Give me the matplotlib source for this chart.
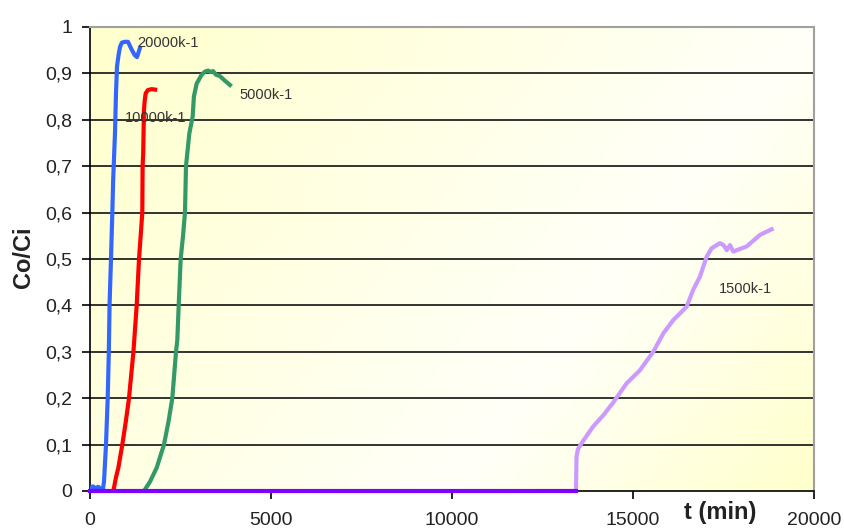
import numpy as np
import matplotlib.pyplot as plt

# breakthrough curves
t_20000 = [0, 80, 150, 230, 300, 350, 387, 442, 489, 520, 540, 580, 617, 640, 690, 718, 746, 790,
           829, 880, 950, 1050, 1110, 1160, 1230, 1298, 1340, 1380]
c_20000 = [0.005, 0.01, 0.006, 0.009, 0.004, 0.0, 0.02, 0.1, 0.2, 0.3, 0.4, 0.5, 0.6, 0.67, 0.77,
           0.857, 0.915, 0.94, 0.957, 0.966, 0.968, 0.968, 0.958, 0.95, 0.94, 0.935, 0.945, 0.955]

t_10000 = [645, 720, 783, 893, 990, 1077, 1200, 1290, 1354, 1400, 1445, 1453, 1470, 1490, 1510,
           1538, 1600, 1700, 1800]
c_10000 = [0, 0.03, 0.05, 0.1, 0.15, 0.2, 0.3, 0.4, 0.5, 0.55, 0.6, 0.7, 0.728, 0.82, 0.84,
           0.857, 0.864, 0.866, 0.865]

t_5000 = [1492, 1657, 1842, 2044, 2170, 2274, 2376, 2412, 2450, 2505, 2570, 2624, 2652, 2743, 2836,
          2870, 2947, 3085, 3180, 3260, 3330, 3400, 3480, 3590, 3730, 3867]
c_5000 = [0, 0.02, 0.05, 0.1, 0.15, 0.2, 0.3, 0.325, 0.4, 0.5, 0.55, 0.6, 0.7, 0.77, 0.807,
          0.85, 0.878, 0.897, 0.904, 0.906, 0.903, 0.905, 0.897, 0.894, 0.884, 0.875]

t_1500 = [13425, 13440, 13480, 13580, 13900, 14200, 14365, 14450, 14500, 14825, 15190, 15560, 15840,
          16110, 16480, 16660, 16850, 17035, 17170, 17400, 17500, 17590, 17680, 17770, 17900, 18140,
          18510, 18830]
c_1500 = [0, 0.074, 0.09, 0.103, 0.139, 0.165, 0.182, 0.19, 0.196, 0.232, 0.26, 0.30, 0.34,
          0.368, 0.397, 0.433, 0.462, 0.505, 0.523, 0.534, 0.53, 0.519, 0.53, 0.516, 0.52, 0.527,
          0.552, 0.564]

t_base = [0, 13425]
c_base = [0, 0]

labels = ['20000k-1', '10000k-1', '5000k-1', '1500k-1']
label_pos = [(1298, 0.965), (967, 0.804), (4116, 0.853), (17376, 0.435)]

xticks = [0, 5000, 10000, 15000, 20000]
yticks = [0, 0.1, 0.2, 0.3, 0.4, 0.5, 0.6, 0.7, 0.8, 0.9, 1.0]

fig = plt.figure(figsize=(8.45, 5.32), dpi=100)
ax = fig.add_axes([0.1065, 0.0771, 0.8568, 0.8722])

# yellow / white diagonal gradient background
u, v = np.meshgrid(np.linspace(0, 1, 300), np.linspace(0, 1, 200))
tt = u + 0.502 * v
f = np.where(tt < 1, 1 - tt, (tt - 1) / 0.5)
f = np.clip(f, 0, 1)
yellow = np.array([1.0, 1.0, 0.80])
white = np.array([1.0, 1.0, 0.975])
img = white[None, None, :] * (1 - f[..., None]) + yellow[None, None, :] * f[..., None]
ax.imshow(img, extent=[0, 1, 0, 1], transform=ax.transAxes, aspect='auto', zorder=0)

for yv in yticks[1:-1]:
    ax.axhline(yv, color='#111111', lw=1.2, zorder=1)

lw = 3.0
ax.plot(t_20000, c_20000, color='#3366ff', lw=lw, zorder=3)
ax.plot(t_10000, c_10000, color='#ff0000', lw=lw, zorder=3)
ax.plot(t_5000, c_5000, color='#339966', lw=lw, zorder=3)
ax.plot(t_1500, c_1500, color='#cc99ff', lw=lw, zorder=3)
ax.plot(t_base, c_base, color='#8000ff', lw=lw, zorder=4, clip_on=False)

for txt, (x, y) in zip(labels, label_pos):
    ax.text(x, y, txt, fontsize=10.5, color='#333333', va='center', ha='left',
            family=['Liberation Sans Narrow', 'Liberation Sans'], zorder=5)

ax.set_xlim(0, 20000)
ax.set_ylim(0, 1)
ax.set_xticks(xticks)
ax.set_yticks(yticks)
ax.set_yticklabels(['0' if v == 0 else ('1' if v == 1 else f'{v:.1f}'.replace('.', ',')) for v in yticks])
ax.tick_params(axis='both', direction='out', length=6, width=1.2, color='black',
               labelsize=14, labelcolor='#222222')
ax.tick_params(axis='y', pad=7)
ax.tick_params(axis='x', pad=9)
for lab in ax.get_xticklabels() + ax.get_yticklabels():
    lab.set_family('Liberation Sans')

ax.spines['left'].set_color('black')
ax.spines['left'].set_linewidth(1.2)
ax.spines['bottom'].set_color('black')
ax.spines['bottom'].set_linewidth(1.2)
for s in ['top', 'right']:
    ax.spines[s].set_color('#a0a0a0')
    ax.spines[s].set_linewidth(1.5)

fig.text(24 / 845, 1 - 257 / 532, 'Co/Ci', rotation=90, ha='center', va='center',
         fontsize=17, fontweight='bold', family='Liberation Sans', color='#222222')
fig.text(720 / 845, 1 - 513 / 532, 't (min)', ha='center', va='center',
         fontsize=17, fontweight='bold', family='Liberation Sans', color='#222222')

fig.savefig('out.png', dpi=100)
